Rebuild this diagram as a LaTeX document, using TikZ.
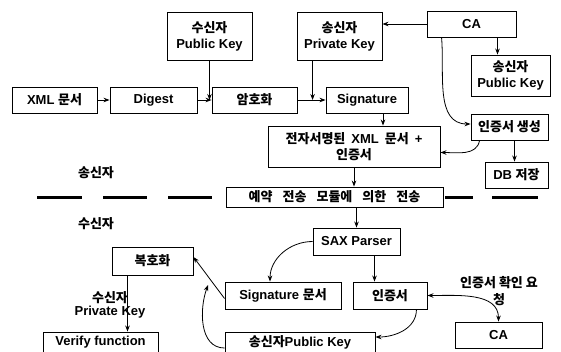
\documentclass[tikz,border=0pt]{standalone}
\usepackage{fontspec}
\setmainfont{Liberation Sans}
\newfontfamily\kr{Noto Sans CJK KR}
\newcommand\K[1]{{\kr\bfseries #1}}
\usetikzlibrary{arrows.meta,calc}
\begin{document}
\begin{tikzpicture}[x=1pt,y=1pt,
  box/.style={draw, line width=0.9pt, inner sep=1pt, align=center, font=\fontsize{13}{16}\selectfont\bfseries},
  wh/.style 2 args={minimum width=#1pt, minimum height=#2pt},
  arr/.style={-{Stealth[length=6pt,width=4.5pt]}, line width=0.8pt},
  darr/.style={{Stealth[length=6pt,width=4.5pt]}-{Stealth[length=6pt,width=4.5pt]}, line width=0.8pt},
  lbl/.style={align=center, font=\fontsize{13}{15}\selectfont\bfseries},
  sepline/.style={line width=3pt}]
\useasboundingbox (0,0) rectangle (561,-351);
\clip (0,0) rectangle (561,-351);
% top part
\node[box, wh={85}{26}] (xml) at (54.5,-100) {XML \K{문서}};
\node[box, wh={87}{26}] (dig) at (153.5,-100) {Digest};
\node[box, wh={85}{26}] (enc) at (254.5,-100) {\K{암호화}};
\node[box, wh={82}{26}] (sig) at (367,-100) {Signature};
\node[box, wh={85}{48}] (pk1) at (209.5,-36) {\K{수신자}\\Public Key};
\node[box, wh={85}{48}] (sk) at (339.5,-36) {\K{송신자}\\Private Key};
\node[box, wh={89}{26}] (ca1) at (471.5,-24) {CA};
\node[box, wh={79}{41}] (pk2) at (510.5,-75.5) {\K{송신자}\\Public Key};
\node[box, wh={172}{41}] (doc) at (354,-146.5) {{\spaceskip=6pt\K{전자서명된} XML \K{문서} +}\\\K{인증서}};
\node[box, wh={77}{26}] (cert) at (509.5,-127) {\K{인증서 생성}};
\node[box, wh={63}{26}] (db) at (516.5,-175) {DB \K{저장}};
\node[box, wh={217}{20}] (trans) at (334.5,-197) {{\kr\bfseries\spaceskip=10pt 예약 전송 모듈에 의한 전송}};
% bottom part
\node[box, wh={87}{27}] (sax) at (356.5,-241.5) {SAX Parser};
\node[box, wh={81}{28}] (dec) at (152.5,-261) {\K{복호화}};
\node[box, wh={116}{27}] (sigdoc) at (283,-295.5) {Signature \K{문서}};
\node[box, wh={74}{27}] (crt) at (390,-295.5) {\K{인증서}};
\node[box, wh={87}{26}] (ca2) at (498.5,-335) {CA};
\node[box, wh={115}{20}] (ver) at (100.5,-342) {Verify function};
\node[box, wh={150}{20}] (spk) at (300,-342) {\K{송신자}Public Key};
% labels
\node[lbl] (ls) at (96,-173) {\K{송신자}};
\node[lbl] (lr) at (96,-224) {\K{수신자}};
\node[lbl, font=\fontsize{13}{13}\selectfont\bfseries] (lk) at (110,-305) {\K{수신자}\\Private Key};
\node[lbl, font=\fontsize{13}{17}\selectfont\bfseries] (lq) at (499,-291) {\K{인증서 확인 요}\\\K{청}};
% separator
\draw[sepline] (37,-197) -- (82,-197);
\draw[sepline] (103,-197) -- (147,-197);
\draw[sepline] (168,-197) -- (212,-197);
\draw[sepline] (445,-197) -- (473,-197);
\draw[sepline] (492,-197) -- (538,-197);
% connectors
\draw[arr] (xml) -- (dig);
\draw[arr] (dig) -- (enc);
\draw[arr] (enc) -- (sig);
\draw[arr] (pk1.south) -- (pk1.south |- enc.west);
\coordinate (a1) at ([xshift=16pt]sk.south west);
\draw[arr] (a1) -- (a1 |- sig.west);
\draw[arr] (ca1.west) -- (ca1.west -| sk.east);
\coordinate (a2) at ([xshift=26pt]ca1.south);
\draw[arr] (a2) -- (a2 |- pk2.north);
\coordinate (a3) at ([xshift=16pt]sig.south);
\draw[arr] (a3) -- (a3 |- doc.north);
\coordinate (a4) at ([xshift=15pt]ca1.south west);
\draw[arr] (a4) to[out=-85,in=180] ([yshift=3pt]cert.west);
\coordinate (a5) at ([xshift=9pt]cert.south west);
\draw[arr] (a5) to[out=-100,in=0] ([yshift=-6pt]doc.east);
\coordinate (a6) at ([xshift=5pt]cert.south);
\draw[arr] (a6) -- (a6 |- db.north);
\draw[arr] (doc.south) -- (doc.south |- trans.north);
\draw[arr] (sax.north |- trans.south) -- (sax.north);
\draw[arr] (sax.west) to[out=180,in=90] ([xshift=-13pt]sigdoc.north);
\coordinate (a7) at ([xshift=18pt]sax.south);
\draw[arr] (a7) -- (a7 |- crt.north);
\draw[arr] ([yshift=-3pt]sigdoc.west) -- ([yshift=4pt]dec.east);
\draw[arr] ([xshift=-11pt]crt.south east) to[out=-90,in=0] ([yshift=5pt]spk.east);
\coordinate (tip) at (208,-285);
\draw[arr] ([yshift=-6pt]spk.west) to[out=180,in=-110] (tip);
\draw[darr] (crt.east) to[out=0,in=90] (ca2.north);
\coordinate (a8) at ([xshift=-25pt]dec.south);
\draw[arr] (a8) -- (a8 |- ver.north);
\end{tikzpicture}
\end{document}
